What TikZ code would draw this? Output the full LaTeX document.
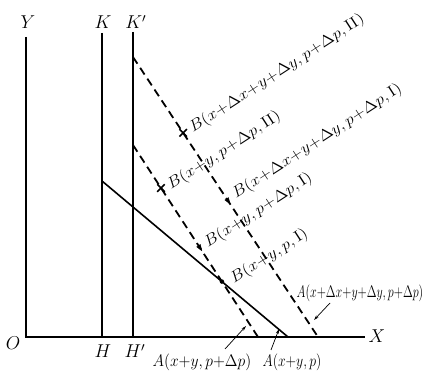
\documentclass[tikz,border=0pt]{standalone}
\usetikzlibrary{arrows.meta,shapes.geometric,shapes.misc,intersections}
\begin{document}
\begin{tikzpicture}[x=1pt,y=-1pt,
  axis/.style={line width=1.2pt},
  solidln/.style={line width=1.6pt},
  dashln/.style={line width=1.8pt,dash pattern=on 8pt off 5pt},
  lbl/.style={font=\fontsize{12}{14}\selectfont,inner sep=0pt,scale=1.55},
  blabel/.style={font=\fontsize{12}{14}\selectfont,inner sep=0pt,anchor=base west,rotate=33,xscale=1.45,yscale=1.3},
  alabel/.style={font=\fontsize{12}{14}\selectfont,inner sep=0pt,yscale=1.4},
  xmark/.style={cross out,draw,line width=1.5pt,minimum size=6pt,inner sep=0pt},
  tmark/.style={isosceles triangle,isosceles triangle apex angle=40,fill,draw,inner sep=0pt,minimum width=3pt,minimum height=6pt,sloped},
  ptmark/.style={circle,fill,inner sep=0pt,minimum size=4.5pt},
  arr/.style={-{Stealth[length=5pt,width=3pt]},line width=0.7pt}]
\useasboundingbox (0,0) rectangle (428,379);
% frame points
\coordinate (O) at (26,337);
\coordinate (Yt) at (26,37);
\coordinate (H) at (102,337);
\coordinate (Kt) at (102,33);
\coordinate (Hp) at (133,337);
\coordinate (Kpt) at (133,32);
\coordinate (Xe) at (365,337);
\coordinate (S1) at (102,181);
\coordinate (S2) at (288,337);
\coordinate (Da) at (133,145);
\coordinate (Db) at (258,337);
\coordinate (Ea) at (133,57);
\coordinate (Eb) at (318,337);
% lines
\draw[axis] (Yt) -- (O) -- (Xe);
\draw[axis] (Kt) -- (H);
\draw[axis] (Kpt) -- (Hp);
\draw[solidln,name path=sol] (S1) -- (S2);
\draw[dashln,name path=inner] (Da) -- (Db);
\draw[dashln] (Ea) -- (Eb);
% marks
\path (Ea) -- (Eb) node[xmark,pos=0.271] (m1) {} node[tmark,pos=0.511] (m3) {};
\path (Da) -- (Db) node[xmark,pos=0.224] (m2) {} node[tmark,pos=0.531] (m4) {};
\path[name intersections={of=sol and inner,by=Ipt}] node[ptmark] (m5) at (Ipt) {};
% B labels
\node[blabel] (b1) at (193,133) {$B(x{+}\Delta x{+}y{+}\Delta y,p{+}\Delta p,\mathrm{II})$};
\node[blabel] (b2) at (171,190) {$B(x{+}y,p{+}\Delta p,\mathrm{II})$};
\node[blabel] (b3) at (236,199) {$B(x{+}\Delta x{+}y{+}\Delta y,p{+}\Delta p,\mathrm{I})$};
\node[blabel] (b4) at (208,248) {$B(x{+}y,p{+}\Delta p,\mathrm{I})$};
\node[blabel] (b5) at (234,284) {$B(x{+}y,p,\mathrm{I})$};
% A labels
\node[alabel] (a1) at (360,293) {$A(x{+}\Delta x{+}y{+}\Delta y,p{+}\Delta p)$};
\node[alabel,xscale=1.3] (a2) at (202,362) {$A(x{+}y,p{+}\Delta p)$};
\node[alabel,xscale=1.15] (a3) at (292,362) {$A(x{+}y,p)$};
% arrows
\coordinate (t1a) at (330,303); \coordinate (t1b) at (314,320);
\coordinate (t2a) at (225,349); \coordinate (t2b) at (246,326);
\coordinate (t3a) at (271,350); \coordinate (t3b) at (279,329);
\draw[arr] (t1a) -- (t1b);
\draw[arr] (t2a) -- (t2b);
\draw[arr] (t3a) -- (t3b);
% axis labels
\node[lbl] (ly) at (28,22) {$Y$};
\node[lbl] (lk) at (103,22) {$K$};
\node[lbl] (lkp) at (136,22) {$K'$};
\node[lbl] (lo) at (13,343) {$O$};
\node[lbl] (lh) at (103,351) {$H$};
\node[lbl] (lhp) at (135,351) {$H'$};
\node[lbl] (lx) at (377,336) {$X$};
\end{tikzpicture}
\end{document}
